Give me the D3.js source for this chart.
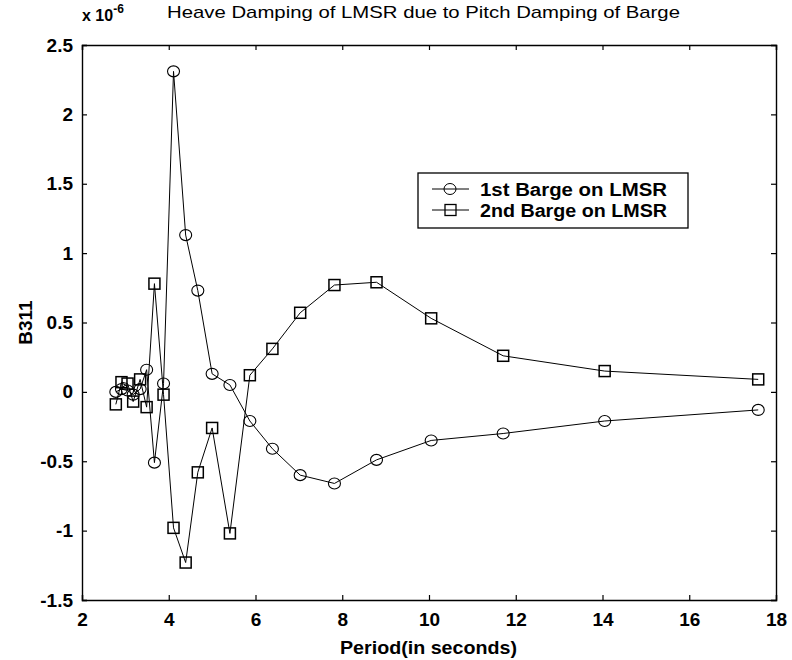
<!DOCTYPE html>
<html>
<head>
<meta charset="utf-8">
<script src="https://cdn.jsdelivr.net/npm/d3@7"></script>
<style>
  body { margin: 0; background: #fff; }
  text { font-family: "Liberation Sans", Arial, sans-serif; fill: #000; }
</style>
</head>
<body>
<svg id="chart"></svg>
<script>
// periods (s) shared by both series
const periods = [2.78, 2.91, 3.05, 3.18, 3.34, 3.49, 3.67, 3.88, 4.11, 4.39, 4.67, 5.0, 5.41, 5.87, 6.39, 7.03, 7.82, 8.79, 10.05, 11.71, 14.05, 17.59];
// B311 values, x 1e-6
const barge1 = [0.0, 0.02, 0.01, -0.02, 0.02, 0.16, -0.51, 0.06, 2.31, 1.13, 0.73, 0.13, 0.05, -0.21, -0.41, -0.60, -0.66, -0.49, -0.35, -0.30, -0.21, -0.13];
const barge2 = [-0.09, 0.07, 0.06, -0.07, 0.09, -0.11, 0.78, -0.02, -0.98, -1.23, -0.58, -0.26, -1.02, 0.12, 0.31, 0.57, 0.77, 0.79, 0.53, 0.26, 0.15, 0.09];
const seriesNames = ["1st Barge on LMSR", "2nd Barge on LMSR"];
const xTicks = [2, 4, 6, 8, 10, 12, 14, 16, 18];
const yTicks = [-1.5, -1, -0.5, 0, 0.5, 1, 1.5, 2, 2.5];

const w = 792, h = 660;
const margin = { top: 45, right: 16, bottom: 60, left: 82 };

const svg = d3.select("#chart").attr("width", w).attr("height", h);

const xScale = d3.scaleLinear().domain([2, 18]).range([margin.left, w - margin.right]);
const yScale = d3.scaleLinear().domain([-1.5, 2.5]).range([h - margin.bottom, margin.top]);

const fmt = d => String(d);

// the scanned original is a little wider than normal type, stretch text to fit
const stretch = (sel, len) => sel.attr("textLength", len).attr("lengthAdjust", "spacingAndGlyphs");

// axes, ticks pointing inward like matlab
svg.append("g")
    .attr("transform", `translate(0,${h - margin.bottom})`)
    .call(d3.axisBottom(xScale).tickValues(xTicks).tickFormat(fmt).tickSize(-5).tickPadding(13))
    .call(g => g.selectAll("text").style("font-size", "19px").style("font-weight", "bold"));
svg.append("g")
    .attr("transform", `translate(0,${margin.top})`)
    .call(d3.axisTop(xScale).tickValues(xTicks).tickFormat("").tickSize(-5));
svg.append("g")
    .attr("transform", `translate(${margin.left},0)`)
    .call(d3.axisLeft(yScale).tickValues(yTicks).tickFormat(fmt).tickSize(-5).tickPadding(9))
    .call(g => g.selectAll("text").style("font-size", "19px").style("font-weight", "bold"));
svg.append("g")
    .attr("transform", `translate(${w - margin.right},0)`)
    .call(d3.axisRight(yScale).tickValues(yTicks).tickFormat("").tickSize(-5));

svg.selectAll(".domain").attr("stroke", "#000").attr("stroke-width", 1.4);
svg.selectAll(".tick line").attr("stroke", "#000").attr("stroke-width", 1.2);
svg.selectAll(".tick text").attr("font-family", "Liberation Sans, Arial, sans-serif");

// series
const line = d3.line().x(d => xScale(d[0])).y(d => yScale(d[1]));
const s1 = periods.map((p, i) => [p, barge1[i]]);
const s2 = periods.map((p, i) => [p, barge2[i]]);

const plot = svg.append("g");
[s1, s2].forEach(s => {
    plot.append("path").datum(s)
        .attr("d", line)
        .attr("fill", "none")
        .attr("stroke", "#000")
        .attr("stroke-width", 1);
});

plot.selectAll("ellipse.m").data(s1).join("ellipse")
    .attr("class", "m")
    .attr("cx", d => xScale(d[0]))
    .attr("cy", d => yScale(d[1]))
    .attr("rx", 6)
    .attr("ry", 5.5)
    .attr("fill", "none")
    .attr("stroke", "#000")
    .attr("stroke-width", 1.1);

const sq = 11;
plot.selectAll("rect.m").data(s2).join("rect")
    .attr("class", "m")
    .attr("x", d => xScale(d[0]) - sq / 2)
    .attr("y", d => yScale(d[1]) - sq / 2)
    .attr("width", sq)
    .attr("height", sq)
    .attr("fill", "none")
    .attr("stroke", "#000")
    .attr("stroke-width", 1.5);

// title and labels
svg.append("text")
    .attr("x", 167).attr("y", 18)
    .style("font-size", "17px")
    .text("Heave Damping of LMSR due to Pitch Damping of Barge")
    .call(stretch, 513);

const expo = svg.append("text").attr("x", margin.left).attr("y", 21)
    .style("font-size", "16px").style("font-weight", "bold");
expo.append("tspan").text("x 10");
expo.append("tspan").attr("dy", -8).style("font-size", "12px").text("-6");

svg.append("text")
    .attr("x", 340).attr("y", 654)
    .style("font-size", "18px").style("font-weight", "bold")
    .text("Period(in seconds)")
    .call(stretch, 177);

svg.append("text")
    .attr("transform", `translate(32,${(margin.top + h - margin.bottom) / 2}) rotate(-90)`)
    .attr("text-anchor", "middle")
    .style("font-size", "19px").style("font-weight", "bold")
    .text("B311");

// legend
const lg = svg.append("g").attr("transform", "translate(418,173)");
lg.append("rect")
    .attr("width", 270).attr("height", 55)
    .attr("fill", "#fff").attr("stroke", "#000").attr("stroke-width", 1.3);
seriesNames.forEach((name, i) => {
    const y = 16 + i * 21;
    lg.append("line").attr("x1", 14).attr("x2", 51).attr("y1", y).attr("y2", y)
        .attr("stroke", "#000").attr("stroke-width", 1);
    if (i === 0) {
        lg.append("ellipse").attr("cx", 32).attr("cy", y).attr("rx", 6).attr("ry", 5.5)
            .attr("fill", "none").attr("stroke", "#000");
    } else {
        lg.append("rect").attr("x", 27).attr("y", y - 5.5).attr("width", 11).attr("height", 11)
            .attr("fill", "none").attr("stroke", "#000").attr("stroke-width", 1.3);
    }
    lg.append("text").attr("x", 62).attr("y", y + 7)
        .style("font-size", "18px").style("font-weight", "bold")
        .text(name)
        .call(stretch, 187);
});
</script>
</body>
</html>
